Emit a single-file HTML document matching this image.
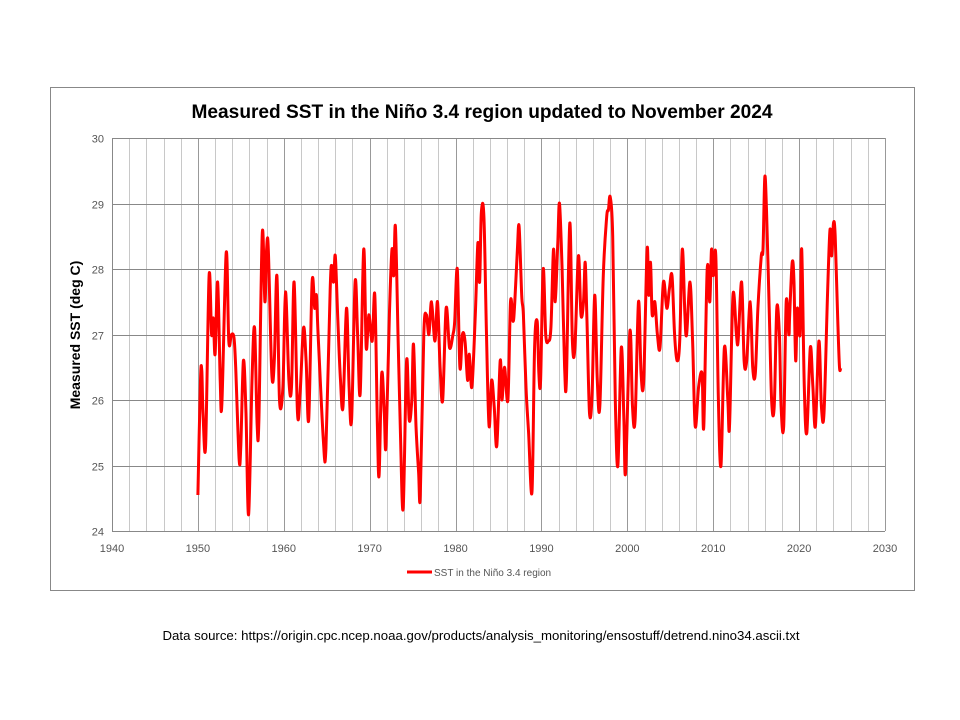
<!DOCTYPE html>
<html><head><meta charset="utf-8"><style>
body{margin:0;background:#fff;width:960px;height:720px;overflow:hidden;font-family:"Liberation Sans",sans-serif}
svg{position:absolute;left:0;top:0}
</style></head><body>
<svg width="960" height="720">
<rect x="50.5" y="87.5" width="864" height="503" fill="#fff" stroke="#888"/>
<text x="482" y="118" text-anchor="middle" font-size="19" font-weight="bold" fill="#000" textLength="581" lengthAdjust="spacingAndGlyphs">Measured SST in the Niño 3.4 region updated to November 2024</text>
<g id="grid"></g>
<g id="axes"></g>
<path id="series" fill="none" stroke="#ff0000" stroke-width="3" stroke-linejoin="round"/>
<text transform="translate(80,335) rotate(-90)" text-anchor="middle" font-size="14" font-weight="bold">Measured SST (deg C)</text>
<g>
<line x1="407" y1="572" x2="432" y2="572" stroke="#ff0000" stroke-width="3"/>
<text x="434" y="576" font-size="10" fill="#555">SST in the Niño 3.4 region</text>
</g>
<text x="481" y="640" text-anchor="middle" font-size="13" fill="#000" textLength="637" lengthAdjust="spacingAndGlyphs">Data source: https://origin.cpc.ncep.noaa.gov/products/analysis_monitoring/ensostuff/detrend.nino34.ascii.txt</text>
</svg>
<script>
const years=[1950.0,1950.3,1950.45,1950.6,1950.9,1951.3,1951.6,1951.8,1952.0,1952.3,1952.6,1952.8,1953.3,1953.6,1953.9,1954.2,1954.4,1954.8,1955.0,1955.3,1955.6,1955.9,1956.3,1956.6,1956.9,1957.1,1957.5,1957.8,1958.0,1958.2,1958.6,1958.9,1959.2,1959.5,1959.9,1960.2,1960.6,1960.9,1961.2,1961.6,1961.9,1962.3,1962.6,1962.9,1963.3,1963.6,1963.8,1964.0,1964.6,1964.9,1965.4,1965.6,1965.8,1966.0,1966.3,1966.6,1966.9,1967.3,1967.6,1967.9,1968.3,1968.6,1968.9,1969.3,1969.6,1969.9,1970.3,1970.6,1970.9,1971.1,1971.4,1971.7,1971.9,1972.3,1972.6,1972.8,1973.0,1973.3,1973.6,1973.9,1974.3,1974.6,1974.9,1975.1,1975.4,1975.7,1975.9,1976.3,1976.6,1976.9,1977.2,1977.6,1977.9,1978.2,1978.5,1978.9,1979.3,1979.7,1979.9,1980.2,1980.5,1980.8,1981.1,1981.4,1981.6,1981.9,1982.3,1982.6,1982.8,1983.0,1983.3,1983.6,1983.9,1984.2,1984.5,1984.8,1985.2,1985.4,1985.7,1986.1,1986.4,1986.7,1986.9,1987.2,1987.4,1987.7,1987.9,1988.2,1988.5,1988.9,1989.2,1989.5,1989.7,1989.9,1990.2,1990.5,1990.8,1991.1,1991.4,1991.6,1991.9,1992.1,1992.4,1992.7,1992.9,1993.3,1993.6,1993.9,1994.3,1994.6,1994.9,1995.1,1995.3,1995.6,1995.9,1996.2,1996.5,1996.8,1997.2,1997.6,1997.8,1998.0,1998.3,1998.6,1998.9,1999.3,1999.6,1999.8,2000.3,2000.6,2000.9,2001.3,2001.6,2001.9,2002.3,2002.5,2002.7,2002.9,2003.2,2003.5,2003.8,2004.2,2004.6,2004.9,2005.2,2005.5,2005.8,2006.1,2006.4,2006.7,2006.9,2007.3,2007.6,2007.9,2008.3,2008.7,2008.9,2009.3,2009.6,2009.8,2010.0,2010.3,2010.6,2010.9,2011.3,2011.7,2011.9,2012.3,2012.7,2012.9,2013.3,2013.6,2013.9,2014.3,2014.6,2014.9,2015.2,2015.6,2015.8,2016.0,2016.2,2016.5,2016.8,2017.1,2017.4,2017.7,2017.9,2018.2,2018.5,2018.8,2018.9,2019.2,2019.4,2019.6,2019.8,2020.1,2020.3,2020.6,2020.9,2021.3,2021.6,2021.9,2022.3,2022.6,2022.9,2023.3,2023.6,2023.8,2024.0,2024.2,2024.5,2024.7,2024.85];
const sst=[24.55,26.3,26.45,25.8,25.3,27.9,27.0,27.25,26.7,27.8,26.3,25.95,28.25,26.9,27.0,26.95,26.5,25.1,25.3,26.6,25.8,24.25,26.3,27.1,25.6,25.7,28.55,27.5,28.3,28.3,26.4,26.6,27.9,26.0,26.2,27.65,26.3,26.2,27.8,25.8,26.1,27.1,26.6,25.7,27.8,27.4,27.6,27.0,25.4,25.25,27.7,28.05,27.8,28.2,27.2,26.3,25.9,27.4,26.2,25.7,27.8,27.0,26.1,28.3,26.8,27.3,26.9,27.6,25.6,24.85,26.4,25.8,25.3,27.3,28.3,27.9,28.65,27.0,25.4,24.35,26.6,25.7,26.0,26.85,25.6,24.9,24.55,27.0,27.3,27.0,27.5,26.9,27.5,26.5,26.0,27.4,26.8,27.0,27.2,28.0,26.5,27.0,26.9,26.3,26.7,26.2,27.3,28.4,27.8,28.85,28.8,27.0,25.6,26.3,25.9,25.3,26.6,26.0,26.5,26.0,27.5,27.2,27.5,28.3,28.65,27.6,27.3,26.2,25.5,24.6,26.8,27.2,26.4,26.3,28.0,27.0,26.9,27.1,28.3,27.5,28.4,29.0,28.0,26.5,26.3,28.7,26.9,26.8,28.2,27.3,27.5,28.1,27.2,25.8,26.1,27.6,26.3,25.9,27.9,28.8,28.9,29.1,28.5,26.0,25.0,26.8,25.7,24.9,27.05,25.9,25.7,27.5,26.4,26.3,28.3,27.6,28.1,27.3,27.5,27.0,26.8,27.8,27.4,27.7,27.9,27.0,26.6,26.9,28.3,27.3,27.0,27.8,26.9,25.6,26.2,26.4,25.6,28.0,27.5,28.3,27.9,28.2,26.0,25.0,26.8,26.0,25.6,27.6,27.0,26.9,27.8,26.6,26.6,27.5,26.5,26.4,27.4,28.2,28.3,29.4,28.9,27.5,26.0,25.9,27.4,27.0,25.9,25.6,27.5,27.0,27.3,28.1,27.8,26.6,27.4,27.0,28.3,26.2,25.5,26.8,26.2,25.6,26.9,25.9,25.8,27.6,28.6,28.2,28.7,28.5,27.2,26.5,26.5];
const xTicks=[1940,1950,1960,1970,1980,1990,2000,2010,2020,2030];
const yTicks=[24,25,26,27,28,29,30];
const X0=112,X1=885,Y0=531,Y1=138;
function xs(v){return X0+(v-1940)/90*(X1-X0);}
function ys(v){return Y0-(v-24)/6*(Y0-Y1);}
const NS="http://www.w3.org/2000/svg";
const grid=document.getElementById('grid'),axes=document.getElementById('axes');
for(let yr=1942;yr<=2030;yr+=2){
  const l=document.createElementNS(NS,'line');
  const x=Math.round(xs(yr))+0.5;
  l.setAttribute('x1',x);l.setAttribute('x2',x);l.setAttribute('y1',Y1);l.setAttribute('y2',Y0);
  l.setAttribute('stroke',yr%10===0?'#999':'#c8c8c8');l.setAttribute('stroke-width','1');
  
  
  grid.appendChild(l);
}
yTicks.forEach(v=>{
  const y=Math.round(ys(v))+0.5;
  const l=document.createElementNS(NS,'line');
  l.setAttribute('x1',X0);l.setAttribute('x2',X1);l.setAttribute('y1',y);l.setAttribute('y2',y);
  l.setAttribute('stroke','#888');
  
  
  grid.appendChild(l);
  const t=document.createElementNS(NS,'text');
  t.setAttribute('x',X0-8);t.setAttribute('y',y+4);t.setAttribute('text-anchor','end');
  t.setAttribute('font-size','11');t.setAttribute('fill','#555');t.textContent=v;
  
  
  axes.appendChild(t);
});
xTicks.forEach(v=>{
  const t=document.createElementNS(NS,'text');
  t.setAttribute('x',xs(v));t.setAttribute('y',Y0+21);t.setAttribute('text-anchor','middle');
  t.setAttribute('font-size','11');t.setAttribute('fill','#555');t.textContent=v;
  
  
  axes.appendChild(t);
});
const ax=document.createElementNS(NS,'path');
ax.setAttribute('d',`M${X0+0.5},${Y1}V${Y0+0.5}H${X1}`);
ax.setAttribute('stroke','#888');ax.setAttribute('fill','none');


axes.appendChild(ax);
// smooth curve (Catmull-Rom) through data points
const P=years.map((yr,i)=>[xs(yr),ys(sst[i])]);
let d='M'+P[0][0].toFixed(1)+','+P[0][1].toFixed(1);
for(let i=0;i<P.length-1;i++){
  const p0=P[Math.max(i-1,0)],p1=P[i],p2=P[i+1],p3=P[Math.min(i+2,P.length-1)];
  const c1=[p1[0]+(p2[0]-p0[0])/6,p1[1]+(p2[1]-p0[1])/6];
  const c2=[p2[0]-(p3[0]-p1[0])/6,p2[1]-(p3[1]-p1[1])/6];
  d+='C'+c1[0].toFixed(1)+','+c1[1].toFixed(1)+' '+c2[0].toFixed(1)+','+c2[1].toFixed(1)+' '+p2[0].toFixed(1)+','+p2[1].toFixed(1);
}
document.getElementById('series').setAttribute('d',d);
</script>
</body></html>
